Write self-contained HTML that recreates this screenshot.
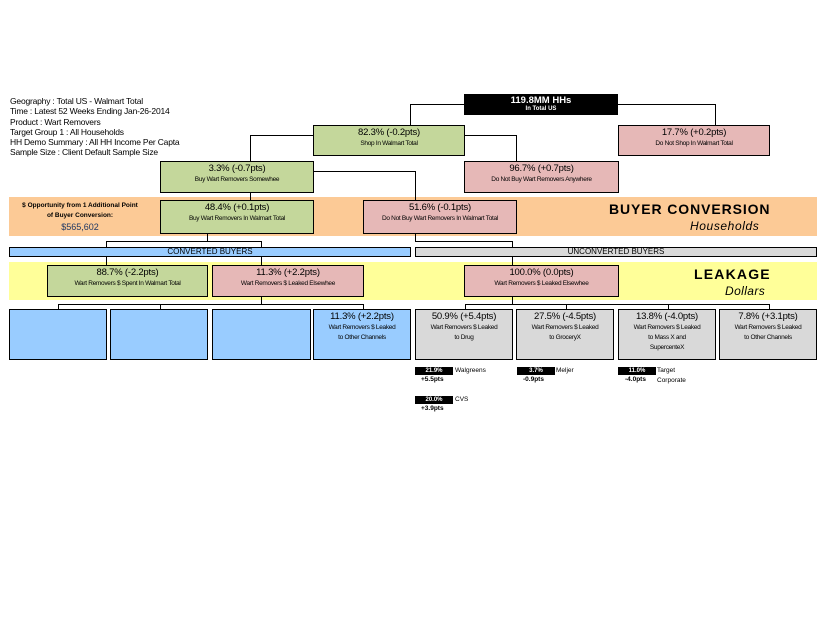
<!DOCTYPE html>
<html><head><meta charset="utf-8"><style>
body{margin:0;width:825px;height:638px;background:#fff;position:relative;overflow:hidden;font-family:"Liberation Sans",Arial,sans-serif;color:#000}
div{position:absolute;box-sizing:border-box}
.b{border:1.5px solid #000;text-align:center;line-height:1}
.b div{position:static}
.t{font-size:9.5px;margin-top:2px;letter-spacing:-0.2px}
.s{font-size:6.5px;letter-spacing:-0.3px;margin-top:1px;line-height:10px}
.g{background:#c4d79b}.p{background:#e6b8b7}.bl{background:#99ccff}.gr{background:#d9d9d9}
.h{background:#000}.v{width:0;border-left:1.5px solid #000}.hz{height:0;border-top:1.5px solid #000}
.lab{font-size:6.5px}
.k{background:#000;color:#fff;font-size:6px;font-weight:bold;text-align:center;line-height:8px;height:8px;width:38px}
</style></head><body>
<div style="left:10px;top:96px;font-size:8.5px;line-height:10.3px;letter-spacing:-0.2px">Geography : Total US - Walmart Total<br>Time : Latest 52 Weeks Ending Jan-26-2014<br>Product : Wart Removers<br>Target Group 1 : All Households<br>HH Demo Summary : All HH Income Per Capta<br>Sample Size : Client Default Sample Size</div>

<div style="left:9px;top:197px;width:808px;height:39px;background:#fcca96"></div>
<div style="left:9px;top:262px;width:808px;height:38px;background:#ffff99"></div>

<div class="hz" style="left:410px;top:104px;width:54px"></div>
<div class="v" style="left:410px;top:104px;height:21px"></div>
<div class="hz" style="left:618px;top:104px;width:97px"></div>
<div class="v" style="left:715px;top:104px;height:21px"></div>
<div class="hz" style="left:250px;top:135px;width:63px"></div>
<div class="v" style="left:250px;top:135px;height:26px"></div>
<div class="hz" style="left:465px;top:135px;width:51px"></div>
<div class="v" style="left:516px;top:135px;height:26px"></div>
<div class="v" style="left:250px;top:192px;height:8px"></div>
<div class="hz" style="left:314px;top:171px;width:102px"></div>
<div class="v" style="left:415px;top:171px;height:70px"></div>
<div class="v" style="left:207px;top:233px;height:8px"></div>
<div class="hz" style="left:106px;top:241px;width:155px"></div>
<div class="v" style="left:106px;top:241px;height:6px"></div>
<div class="v" style="left:261px;top:241px;height:6px"></div>
<div class="hz" style="left:415px;top:241px;width:97px"></div>
<div class="v" style="left:512px;top:241px;height:6px"></div>
<div class="v" style="left:106px;top:256px;height:9px"></div>
<div class="v" style="left:261px;top:256px;height:9px"></div>
<div class="v" style="left:512px;top:256px;height:9px"></div>
<div class="v" style="left:261px;top:296px;height:8px"></div>
<div class="hz" style="left:58px;top:304px;width:305px"></div>
<div class="v" style="left:58px;top:304px;height:5px"></div>
<div class="v" style="left:160px;top:304px;height:5px"></div>
<div class="v" style="left:363px;top:304px;height:5px"></div>
<div class="v" style="left:512px;top:296px;height:8px"></div>
<div class="hz" style="left:465px;top:304px;width:304px"></div>
<div class="v" style="left:465px;top:304px;height:5px"></div>
<div class="v" style="left:566px;top:304px;height:5px"></div>
<div class="v" style="left:668px;top:304px;height:5px"></div>
<div class="v" style="left:769px;top:304px;height:5px"></div>

<div class="b h" style="left:464px;top:94px;width:154px;height:21px;color:#fff"><div style="font-size:9.5px;font-weight:bold;margin-top:1px">119.8MM HHs</div><div style="font-size:6px;font-weight:bold">In Total US</div></div>
<div class="b g" style="left:313px;top:125px;width:152px;height:31px"><div class="t">82.3% (-0.2pts)</div><div class="s">Shop In Walmart Total</div></div>
<div class="b p" style="left:618px;top:125px;width:152px;height:31px"><div class="t">17.7% (+0.2pts)</div><div class="s">Do Not Shop In Walmart Total</div></div>
<div class="b g" style="left:160px;top:161px;width:154px;height:32px"><div class="t">3.3% (-0.7pts)</div><div class="s">Buy Wart Removers Somewhee</div></div>
<div class="b p" style="left:464px;top:161px;width:155px;height:32px"><div class="t">96.7% (+0.7pts)</div><div class="s">Do Not Buy Wart Removers Anywhere</div></div>
<div class="b g" style="left:160px;top:200px;width:154px;height:34px"><div class="t">48.4% (+0.1pts)</div><div class="s">Buy Wart Removers In Walmart Total</div></div>
<div class="b p" style="left:363px;top:200px;width:154px;height:34px"><div class="t">51.6% (-0.1pts)</div><div class="s">Do Not Buy Wart Removers In Walmart Total</div></div>

<div style="left:10px;top:201px;width:140px;text-align:center;font-size:6.5px;font-weight:bold;line-height:10px">$ Opportunity from 1 Additional Point<br>of Buyer Conversion:</div>
<div style="left:10px;top:222px;width:140px;text-align:center;font-size:9px;color:#1f3864">$565,602</div>
<div style="left:609px;top:201px;font-size:14px;font-weight:bold;letter-spacing:0.9px">BUYER CONVERSION</div>
<div style="left:690px;top:219px;font-size:12px;font-style:italic;letter-spacing:0.6px">Households</div>
<div style="left:694px;top:266px;font-size:14px;font-weight:bold;letter-spacing:1.2px">LEAKAGE</div>
<div style="left:725px;top:284px;font-size:12px;font-style:italic;letter-spacing:0.4px">Dollars</div>

<div class="b bl" style="left:9px;top:247px;width:402px;height:10px;font-size:8px;line-height:8px">CONVERTED BUYERS</div>
<div class="b gr" style="left:415px;top:247px;width:402px;height:10px;font-size:8px;line-height:8px">UNCONVERTED BUYERS</div>

<div class="b g" style="left:47px;top:265px;width:161px;height:32px"><div class="t">88.7% (-2.2pts)</div><div class="s">Wart Removers $ Spent In Walmart Total</div></div>
<div class="b p" style="left:212px;top:265px;width:152px;height:32px"><div class="t">11.3% (+2.2pts)</div><div class="s">Wart Removers $ Leaked Elsewhee</div></div>
<div class="b p" style="left:464px;top:265px;width:155px;height:32px"><div class="t">100.0% (0.0pts)</div><div class="s">Wart Removers $ Leaked Elsewhee</div></div>

<div class="b bl" style="left:9px;top:309px;width:98px;height:51px"></div>
<div class="b bl" style="left:110px;top:309px;width:98px;height:51px"></div>
<div class="b bl" style="left:212px;top:309px;width:99px;height:51px"></div>
<div class="b bl" style="left:313px;top:309px;width:98px;height:51px"><div class="t">11.3% (+2.2pts)</div><div class="s">Wart Removers $ Leaked<br>to Other Channels</div></div>
<div class="b gr" style="left:415px;top:309px;width:98px;height:51px"><div class="t">50.9% (+5.4pts)</div><div class="s">Wart Removers $ Leaked<br>to Drug</div></div>
<div class="b gr" style="left:516px;top:309px;width:98px;height:51px"><div class="t">27.5% (-4.5pts)</div><div class="s">Wart Removers $ Leaked<br>to GroceryX</div></div>
<div class="b gr" style="left:618px;top:309px;width:98px;height:51px"><div class="t">13.8% (-4.0pts)</div><div class="s">Wart Removers $ Leaked<br>to Mass X and<br>SupercenteX</div></div>
<div class="b gr" style="left:719px;top:309px;width:98px;height:51px"><div class="t">7.8% (+3.1pts)</div><div class="s">Wart Removers $ Leaked<br>to Other Channels</div></div>

<div class="k" style="left:415px;top:367px">21.9%</div><div class="lab" style="left:455px;top:367px">Walgreens</div><div class="lab" style="left:421px;top:376px;font-weight:bold">+5.5pts</div>
<div class="k" style="left:517px;top:367px">3.7%</div><div class="lab" style="left:556px;top:367px">Meljer</div><div class="lab" style="left:523px;top:376px;font-weight:bold">-0.9pts</div>
<div class="k" style="left:618px;top:367px">11.0%</div><div class="lab" style="left:657px;top:367px">Target</div><div class="lab" style="left:625px;top:376px;font-weight:bold">-4.0pts</div><div class="lab" style="left:657px;top:377px">Corporate</div>
<div class="k" style="left:415px;top:396px">20.0%</div><div class="lab" style="left:455px;top:396px">CVS</div><div class="lab" style="left:421px;top:405px;font-weight:bold">+3.9pts</div>
</body></html>
